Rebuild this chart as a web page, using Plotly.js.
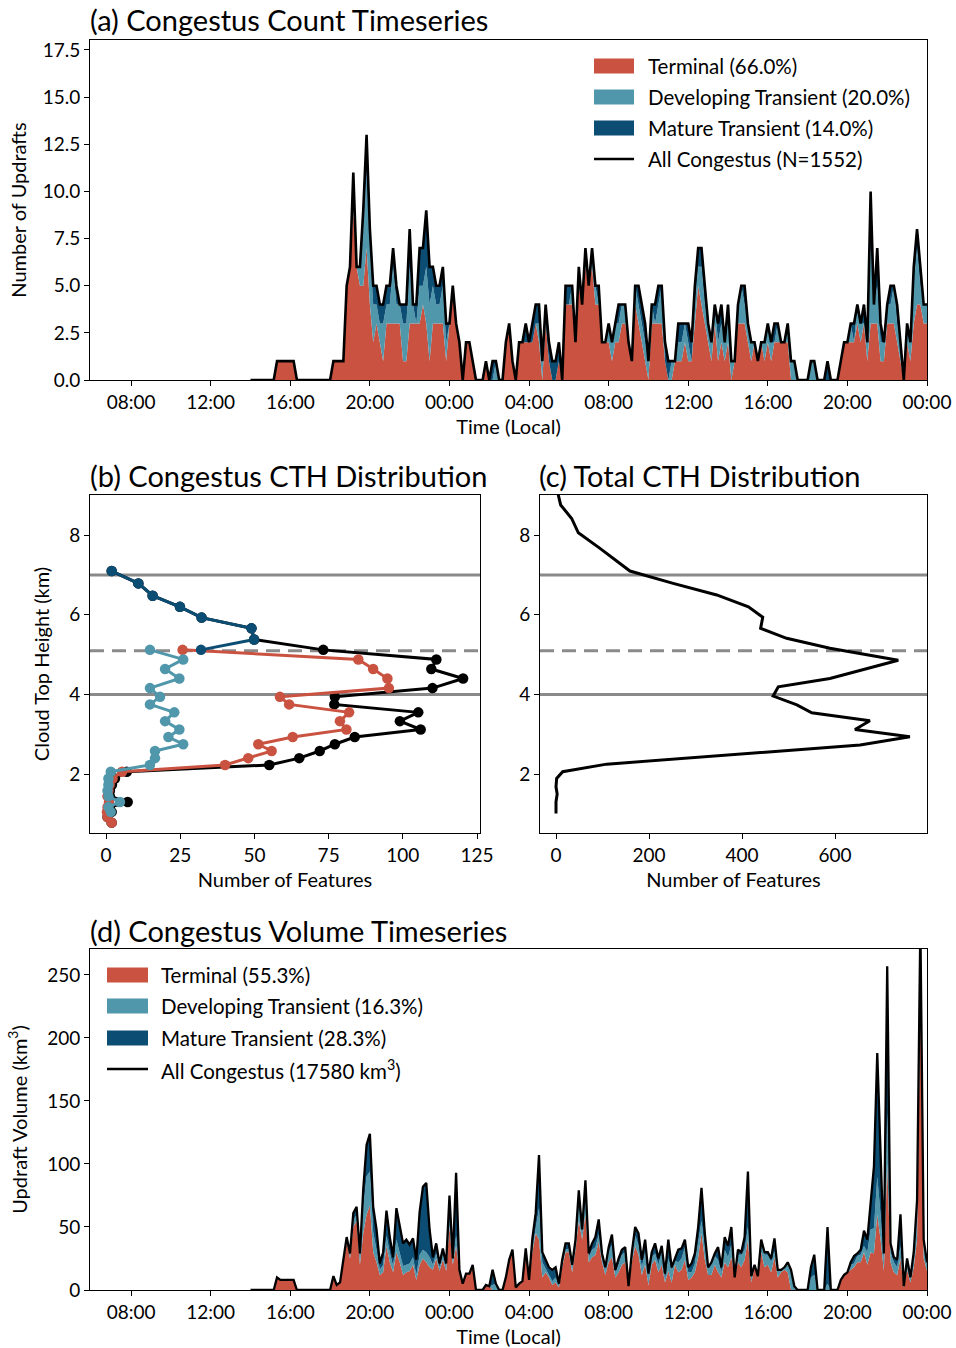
<!DOCTYPE html>
<html><head><meta charset="utf-8">
<script src="https://cdn.plot.ly/plotly-3.0.1.min.js"></script>
<style>html,body{margin:0;padding:0;background:#fff}#chart{width:956px;height:1348px}</style>
</head><body><div id="chart"></div>
<script>
// ---------- DATA ----------
// Timeseries: 10-minute steps starting 14:00 (day 1) through 00:00 (day 3)
const seriesStart = '2000-01-01 14:00';
const stepMinutes = 10;
const tickLabelsTime = ['08:00','12:00','16:00','20:00','00:00','04:00','08:00','12:00','16:00','20:00','00:00'];

const countTerminal = [
0,0,0,0,0,0,0,0,1,1, 1,1,1,1,0,0,0,0,0,0, 0,0,0,0,0,1,1,1,1,5,
6,9,6,5,5,7,4,2,3,2, 1,3,3,3,3,3,1,1,3,3, 3,3,4,3,1,3,3,3,3,1,
3,5,3,2,0,2,2,1,0,0, 0,1,0,0,0,0,0,2,3,1, 0,2,2,2,2,2,3,2,0,3,
1,0,0,1,0,4,4,4,2,5, 4,6,5,6,4,4,2,2,2,1, 2,2,3,3,2,1,4,3,2,1,
0,3,3,3,3,1,0,0,1,1, 1,2,1,1,3,5,4,3,2,1, 3,1,2,1,2,0,1,3,3,3,
2,1,2,1,2,1,2,1,2,2, 2,2,2,0,0,0,0,0,0,0, 0,0,0,0,0,0,0,0,1,2,
2,2,2,3,2,3,1,3,3,3, 1,1,3,3,3,2,1,0,2,1, 3,4,4,3,3];
const countDeveloping = [
0,0,0,0,0,0,0,0,0,0, 0,0,0,0,0,0,0,0,0,0, 0,0,0,0,0,0,0,0,0,0,
0,1,0,1,3,4,3,2,1,1, 2,1,1,3,1,1,2,2,3,1, 0,2,1,3,3,2,1,1,2,1,
0,0,0,0,0,0,0,0,0,0, 0,0,0,0,1,0,0,0,0,0, 0,0,0,0,0,0,0,1,1,0,
0,0,0,0,0,0,0,1,0,0, 0,1,0,1,1,0,0,0,1,1, 1,1,1,1,0,0,1,1,1,1,
1,1,0,1,2,0,0,1,0,1, 1,1,1,0,1,1,2,1,1,1, 1,1,1,1,1,1,0,1,2,1,
1,1,0,0,0,1,1,1,0,1, 0,0,1,1,1,0,0,0,0,1, 1,0,0,0,0,0,0,0,0,0,
0,1,0,1,1,0,1,4,1,2, 1,1,1,1,2,1,1,0,1,1, 2,3,1,1,1];
const countMature = [
0,0,0,0,0,0,0,0,0,0, 0,0,0,0,0,0,0,0,0,0, 0,0,0,0,0,0,0,0,0,0,
0,1,0,0,1,2,1,1,1,1, 1,1,1,1,1,0,1,1,2,0, 1,2,2,3,2,1,1,1,1,1,
0,0,0,0,0,0,0,0,0,0, 0,0,0,1,0,0,0,0,0,0, 0,0,0,1,0,1,1,1,0,1,
1,1,1,1,0,1,1,0,0,1, 0,0,0,0,0,1,0,0,0,0, 0,1,0,0,0,0,0,1,1,1,
0,0,1,1,0,1,1,0,0,1, 1,0,1,1,1,1,1,1,0,0, 0,1,1,0,1,0,0,0,0,1,
0,0,0,0,0,0,0,0,1,0, 0,0,0,0,0,0,0,0,0,0, 0,0,0,0,1,0,0,0,0,0,
0,0,1,0,0,1,0,3,0,2, 1,0,0,1,0,1,0,0,0,0, 1,1,1,0,0];

const volTerminal = [
0,0,0,0,0,0,0,0,10,8, 8,8,8,8,0,0,0,0,0,0, 0,0,0,0,0,11,4,6,22,38,
25,50,55,20,45,60,67,30,22,12, 14,35,22,14,30,22,12,14,15,20, 8,20,25,22,18,16,25,15,24,15,
50,20,35,14,5,13,13,18,0,0, 0,4,3,0,0,0,0,10,24,30, 2,5,7,28,8,30,45,40,10,14,
10,4,6,2,18,30,30,14,32,55, 40,60,22,26,28,38,22,12,22,26, 10,14,20,22,3,22,35,28,12,20,
4,20,24,14,20,6,15,6,20,14, 16,24,8,10,14,26,45,24,12,12, 20,14,10,22,18,26,10,22,18,24,
40,6,18,11,30,18,20,14,26,10, 14,16,14,0,0,0,0,0,0,0, 0,0,0,0,0,0,0,0,8,12,
14,16,18,22,22,30,20,30,29,60, 40,15,100,22,14,12,25,2,16,6, 18,40,230,25,15];
const volDeveloping = [
0,0,0,0,0,0,0,0,0,0, 0,0,0,0,0,0,0,0,0,0, 0,0,0,0,0,0,0,0,2,2,
2,5,5,4,20,30,27,16,10,4, 6,8,8,5,10,8,7,6,6,6, 4,8,7,8,8,4,4,3,4,3,
10,3,8,2,0,0,0,2,0,0, 0,0,0,4,5,0,0,0,0,2, 0,0,0,0,0,3,4,25,12,3,
2,3,4,1,2,2,3,6,4,10, 4,10,4,6,6,6,4,4,8,10, 4,6,8,8,0,4,8,8,6,10,
7,6,5,6,10,2,10,10,3,8, 9,10,6,4,7,12,10,9,6,8, 7,10,4,10,8,10,0,6,10,8,
10,5,2,0,6,10,8,8,5,6, 2,2,6,14,3,0,0,0,0,10, 12,0,0,0,5,0,0,0,0,0,
0,4,3,5,6,5,10,18,20,30, 20,8,40,8,8,6,10,1,6,4, 8,15,20,10,5];
const volMature = [
0,0,0,0,0,0,0,0,0,0, 0,0,0,0,0,0,0,0,0,0, 0,0,0,0,0,0,0,0,0,2,
2,6,6,5,15,25,30,20,16,5, 10,20,12,7,25,20,18,20,15,15, 12,34,50,55,22,6,8,3,5,3,
15,2,50,0,0,0,0,0,0,0, 0,0,0,12,0,0,0,0,0,0, 0,0,0,5,0,8,12,42,8,7,
6,9,8,2,4,5,4,0,4,14, 4,17,3,5,8,12,3,2,4,8, 2,5,4,4,0,4,7,9,6,10,
2,4,8,5,5,5,15,2,2,10, 8,6,4,7,8,12,26,12,0,2, 2,10,4,10,9,14,0,4,2,10,
44,0,0,0,4,2,2,3,10,0, 0,0,2,2,0,0,0,0,0,8, 16,0,0,0,45,0,0,0,0,0,
0,2,6,2,4,12,10,22,49,98, 50,6,117,7,4,6,25,0,3,0, 4,16,40,5,2];

// CTH profiles (km) and number of features
const matureHeight   = [7.10,6.79,6.48,6.20,5.93,5.66,5.38,5.12];
const matureFeatures = [1.9,10.9,15.7,24.9,32.2,49.0,49.9,32.0];
const terminalHeight   = [5.12,4.88,4.64,4.40,4.16,3.94,3.75,3.55,3.33,3.12,2.93,2.75,2.58,2.40,2.23,2.06,1.89,1.73,1.58,1.44,1.30,1.17,1.05,0.92,0.78];
const terminalFeatures = [25.8,85.0,90.0,94.8,95.3,58.6,61.7,81.9,78.8,81.0,62.9,51.3,55.8,47.9,40.1,5.4,2.2,1.2,0.8,0.5,1.0,0.5,0.3,0.5,1.9];
const developingHeight   = [5.12,4.88,4.64,4.40,4.16,3.94,3.75,3.55,3.33,3.12,2.93,2.75,2.58,2.40,2.23,2.06,1.89,1.73,1.58,1.44,1.30,1.17,1.05];
const developingFeatures = [14.8,26.0,19.9,24.7,14.8,18.2,14.8,23.0,19.9,24.7,21.0,26.0,16.5,16.5,14.8,1.6,0.8,0.8,0.5,0.8,4.7,0.8,1.6];
const allHeight   = [7.10,6.79,6.48,6.20,5.93,5.66,5.38,5.12,4.88,4.64,4.40,4.16,3.94,3.75,3.55,3.33,3.12,2.93,2.75,2.58,2.40,2.23,2.06,1.89,1.73,1.58,1.44,1.30,1.17,1.05,0.92,0.78];
const allFeatures = [1.9,10.9,15.7,24.9,32.2,49.0,49.9,73.2,111.3,109.6,120.3,110.0,77.1,76.9,105.2,99.0,106.0,83.8,77.1,72.0,65.1,55.0,7.0,3.0,2.0,1.3,1.3,7.3,1.3,1.9,0.5,1.9];
const totalHeight   = [9.20,9.01,8.76,8.59,8.42,8.06,7.67,7.10,6.79,6.50,6.20,5.94,5.66,5.41,5.16,4.86,4.61,4.40,4.19,3.96,3.74,3.54,3.34,3.12,2.94,2.73,2.25,2.06,1.89,1.68,1.50,1.30,1.01];
const totalFeatures = [4,5,10,22.9,33.7,48,94.6,159,252,345.6,413.8,444.6,440,496,589,736,654,589,478,467,518,550,675,643,761,654,109,14.4,1.4,0,2.5,0,0];
const refHeights = [7.0, 5.1, 4.0];
const refDashed  = [false, true, false];

const legendCount  = ['Terminal (66.0%)','Developing Transient (20.0%)','Mature Transient (14.0%)','All Congestus (N=1552)'];
const legendVolume = ['Terminal (55.3%)','Developing Transient (16.3%)','Mature Transient (28.3%)','All Congestus (17580 km<sup>3</sup>)'];

// ---------- STYLE ----------
const C_TERM = '#CA5241', C_DEV = '#5197AC', C_MAT = '#0C4D74', C_ALL = '#000000', C_REF = '#8a8a8a';
const FONT = 'Lato, "Noto Sans", sans-serif';
const W = 956, H = 1348;
const px = v => v / W, py = v => 1 - v / H;

function pad(n){return (n<10?'0':'')+n;}
const t0 = Date.UTC(2000,0,1,14,0);
const times = countTerminal.map((_, i) => {
  const d = new Date(t0 + i * stepMinutes * 60000);
  return d.getUTCFullYear()+'-'+pad(d.getUTCMonth()+1)+'-'+pad(d.getUTCDate())+' '+pad(d.getUTCHours())+':'+pad(d.getUTCMinutes());
});
const sum3 = (a,b,c) => a.map((v,i)=>v+b[i]+c[i]);

const traces = [];
function stackTraces(xa, ya, grp, r, d, m) {
  [[r,C_TERM],[d,C_DEV],[m,C_MAT]].forEach(([arr,col]) => {
    traces.push({type:'scatter', mode:'lines', x:times, y:arr, xaxis:xa, yaxis:ya,
      stackgroup:grp, fillcolor:col, line:{width:0, color:col}, showlegend:false, hoverinfo:'skip'});
  });
}
stackTraces('x','y','cnt', countTerminal, countDeveloping, countMature);
traces.push({type:'scatter', mode:'lines', x:times, y:sum3(countTerminal,countDeveloping,countMature),
  xaxis:'x', yaxis:'y', line:{color:C_ALL, width:2.6}, showlegend:false});
stackTraces('x4','y4','vol', volTerminal, volDeveloping, volMature);
traces.push({type:'scatter', mode:'lines', x:times, y:sum3(volTerminal,volDeveloping,volMature),
  xaxis:'x4', yaxis:'y4', line:{color:C_ALL, width:2.3}, showlegend:false});

// profiles (b)
[[allFeatures,allHeight,C_ALL],[terminalFeatures,terminalHeight,C_TERM],
 [developingFeatures,developingHeight,C_DEV],[matureFeatures,matureHeight,C_MAT]].forEach(([xv,yv,col])=>{
  traces.push({type:'scatter', mode:'lines+markers', x:xv, y:yv, xaxis:'x2', yaxis:'y2',
    line:{color:col, width:3}, marker:{color:col, size:10.5}, showlegend:false, cliponaxis:true});
});
// total (c)
traces.push({type:'scatter', mode:'lines', x:totalFeatures, y:totalHeight, xaxis:'x3', yaxis:'y3',
  line:{color:C_ALL, width:3}, showlegend:false});

const tickFont = {family:FONT, size:19, color:'#000'};
const titleFont = {family:FONT, size:20, color:'#000'};
const baseAxis = {showline:true, mirror:true, linecolor:'#000', linewidth:1, ticks:'outside', ticklen:5,
  tickcolor:'#000', tickwidth:1, showgrid:false, zeroline:false, tickfont:tickFont};

const timeAxis = (dom) => Object.assign({}, baseAxis, {type:'date', domain:dom,
  range:['2000-01-01 05:56','2000-01-03 00:00'], tickmode:'array',
  tickvals:['2000-01-01 08:00','2000-01-01 12:00','2000-01-01 16:00','2000-01-01 20:00','2000-01-02 00:00','2000-01-02 04:00','2000-01-02 08:00','2000-01-02 12:00','2000-01-02 16:00','2000-01-02 20:00','2000-01-03 00:00'],
  ticktext:tickLabelsTime, title:{text:'Time (Local)', font:titleFont, standoff:8}});

// shapes: reference lines + manual legends
const shapes = [];
['y2','y3'].forEach((ya,k) => {
  refHeights.forEach((h,i) => shapes.push({type:'line', xref:(k===0?'x2':'x3')+' domain', x0:0, x1:1, yref:ya, y0:h, y1:h,
    line:{color:C_REF, width:3, dash: refDashed[i] ? '14px,8px' : 'solid'}, layer:'below'}));
});
const annotations = [];
function manualLegend(x0, x1, xt, ys, labels) {
  const cols = [C_TERM, C_DEV, C_MAT];
  ys.forEach((yc,i) => {
    if (i < 3) shapes.push({type:'rect', xref:'paper', yref:'paper', x0:px(x0), x1:px(x1), y0:py(yc+7.5), y1:py(yc-7.5),
      fillcolor:cols[i], line:{width:0}});
    else shapes.push({type:'line', xref:'paper', yref:'paper', x0:px(x0), x1:px(x1), y0:py(yc), y1:py(yc),
      line:{color:'#000', width:2.3}});
    annotations.push({xref:'paper', yref:'paper', x:px(xt), y:py(yc), xanchor:'left', yanchor:'middle',
      text:labels[i], showarrow:false, font:{family:FONT, size:20.5, color:'#000'}});
  });
}
manualLegend(594, 634, 646, [66,97,128,159], legendCount);
manualLegend(107, 148, 159, [975,1006,1038,1069], legendVolume);

[['(a) Congestus Count Timeseries',88,20],['(b) Congestus CTH Distribution',88,475],
 ['(c) Total CTH Distribution',537,475],['(d) Congestus Volume Timeseries',88,930]].forEach(([t,x,y]) => {
  annotations.push({xref:'paper', yref:'paper', x:px(x), y:py(y), xanchor:'left', yanchor:'middle', text:t,
    showarrow:false, font:{family:FONT, size:29, color:'#000'}});
});

const layout = {
  width:W, height:H, margin:{l:0,r:0,t:0,b:0}, paper_bgcolor:'#fff', plot_bgcolor:'#fff',
  showlegend:false, font:{family:FONT, color:'#000'},
  xaxis: timeAxis([px(90), px(927)]),
  yaxis: Object.assign({}, baseAxis, {domain:[py(380), py(40)], range:[0,18.03], tickmode:'linear', tick0:0, dtick:2.5,
    tickformat:'.1f', title:{text:'Number of Updrafts', font:titleFont, standoff:10}}),
  xaxis2: Object.assign({}, baseAxis, {domain:[px(90), px(480)], range:[-5.4,126], tickmode:'linear', tick0:0, dtick:25,
    title:{text:'Number of Features', font:titleFont, standoff:8}}),
  yaxis2: Object.assign({}, baseAxis, {domain:[py(833), py(495)], range:[0.52,9.01], tickmode:'linear', tick0:2, dtick:2,
    title:{text:'Cloud Top Height (km)', font:titleFont, standoff:14}}),
  xaxis3: Object.assign({}, baseAxis, {domain:[px(540), px(927)], range:[-34.4,797.8], tickmode:'linear', tick0:0, dtick:200,
    title:{text:'Number of Features', font:titleFont, standoff:8}}),
  yaxis3: Object.assign({}, baseAxis, {domain:[py(833), py(495)], range:[0.52,9.01], tickmode:'linear', tick0:2, dtick:2}),
  xaxis4: timeAxis([px(90), px(927)]),
  yaxis4: Object.assign({}, baseAxis, {domain:[py(1290), py(949)], range:[0,270.6], tickmode:'linear', tick0:0, dtick:50,
    title:{text:'Updraft Volume (km<sup>3</sup>)', font:titleFont, standoff:14}}),
  shapes, annotations
};
layout.xaxis4.anchor = 'y4'; layout.yaxis4.anchor = 'x4';
layout.xaxis2.anchor = 'y2'; layout.yaxis2.anchor = 'x2';
layout.xaxis3.anchor = 'y3'; layout.yaxis3.anchor = 'x3';

Plotly.newPlot('chart', traces, layout, {displayModeBar:false, staticPlot:true});
</script></body></html>
